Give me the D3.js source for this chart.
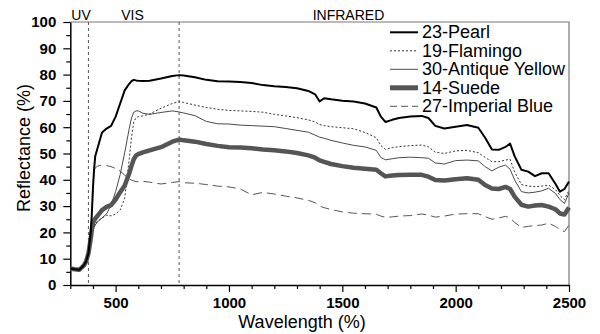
<!DOCTYPE html>
<html>
<head>
<meta charset="utf-8">
<script src="https://cdn.jsdelivr.net/npm/d3@7"></script>
<style>
  html, body { margin: 0; padding: 0; background: #fff; }
  svg { display: block; font-family: "Liberation Sans", Arial, sans-serif; }
</style>
</head>
<body>
<svg id="chart" width="600" height="334"></svg>
<script>
// Spectral reflectance of five paint colours, 300–2500 nm
const wavelengths = [300, 320, 340, 360, 370, 380, 390, 395, 400, 405, 410, 420, 440, 460, 480, 500, 520, 540, 560, 570, 580, 590, 600, 620, 650, 700, 750, 780, 800, 850, 900, 950, 1000, 1050, 1100, 1150, 1200, 1250, 1300, 1350, 1380, 1400, 1420, 1450, 1500, 1550, 1600, 1650, 1670, 1690, 1720, 1750, 1800, 1850, 1880, 1910, 1950, 2000, 2050, 2100, 2130, 2160, 2190, 2220, 2240, 2260, 2290, 2320, 2350, 2380, 2410, 2440, 2460, 2480, 2500];

const pearl = [6.3, 6.0, 5.8, 7.5, 9, 12, 20, 27, 37, 44, 49, 52, 58, 59.5, 60.5, 64, 69, 74, 76.5, 77.5, 78, 77.8, 77.7, 77.6, 77.7, 78.5, 79.5, 79.8, 79.7, 79, 78, 77.5, 77.4, 77.2, 76.8, 76, 75.6, 75.3, 74.8, 73.8, 72.5, 69.8, 71, 70.6, 70.1, 69.8, 69, 67.5, 64, 62, 62.8, 63.5, 64.1, 64.3, 63.5, 60.5, 59.5, 60.2, 60.8, 59.8, 56, 51.5, 51.4, 52.5, 53.8, 49, 43.8, 43.1, 41.4, 42.5, 42.5, 38.5, 35.5, 36.5, 39.3];

const flamingo = [6.3, 6.0, 5.8, 7.5, 9, 12, 17, 19.5, 21, 22, 23, 24.2, 25.5, 26.5, 26.3, 27, 28.5, 33, 48, 56, 62, 63.6, 64, 64.3, 65, 67.2, 69, 69.7, 69.4, 68.4, 67.5, 66.8, 66.4, 66.2, 66, 65.7, 64.9, 64.3, 63.6, 62.8, 62, 61, 60.6, 60.2, 59.8, 59.4, 58, 56, 53, 51.6, 52.2, 52.6, 53, 53.2, 52.5, 50.5, 50, 51, 51.2, 50.3, 48.5, 46.9, 46.9, 47.5, 47.8, 43, 38.2, 37.6, 37.4, 37.6, 38, 36.3, 34, 32.5, 36];

const antiqueYellow = [6.3, 6.0, 5.8, 7.5, 9, 12, 17, 19.5, 21, 22, 22.8, 24, 25.5, 27, 30.4, 35.5, 42, 50.3, 59.5, 63.5, 65.7, 66.2, 66.2, 65.3, 64.9, 65.6, 66.2, 65.8, 65.4, 64.4, 62.2, 61.3, 61.2, 60.8, 60.6, 60.4, 60.2, 59.5, 58.8, 58.1, 57, 56.2, 55.8, 55, 54, 53.1, 52.5, 51.2, 48.5, 47.6, 48, 48.4, 48.6, 48.4, 48.2, 46.4, 46, 47.3, 47.5, 47.2, 45, 43.4, 44.8, 45.6, 44, 40, 35.5, 35, 35.3, 35.8, 36.8, 34.8, 32.5, 31, 35];

const suede = [6.3, 6.0, 5.8, 7.5, 9, 12, 17.5, 21, 23.5, 24.5, 25.2, 26.3, 28.5, 29.7, 30.4, 32.5, 35.3, 37.8, 42.5, 45.3, 47.8, 49.2, 49.8, 50.4, 51.2, 52.4, 54.5, 55.3, 55, 54.5, 53.6, 52.9, 52.4, 52.3, 52, 51.5, 51.2, 50.8, 50.2, 49.3, 48.4, 47.4, 46.8, 46, 45.2, 44.6, 44.2, 43.8, 42.5, 41.3, 41.6, 41.8, 41.9, 41.9, 41.2, 39.9, 39.7, 40.2, 40.6, 40, 38, 36.7, 36.5, 37.3, 36.5, 33.6, 30.5, 29.8, 30.2, 30.4, 29.8, 28.8, 27.2, 26.8, 29.5];

const imperialBlue = [6.3, 6.0, 5.8, 7.5, 9, 12, 20, 27, 37, 43.8, 44.5, 45.2, 45.6, 45.4, 45, 44.3, 43.3, 41.8, 40.3, 39.9, 39.6, 39.3, 39.3, 39.4, 39.1, 38.4, 39, 39.3, 38.9, 38.7, 38.2, 37.6, 37.3, 36.5, 34.3, 35.2, 34.6, 33.8, 33.1, 32.2, 31.3, 30, 29.4, 28.7, 27.8, 27.3, 27.1, 26.9, 26.2, 25.7, 25.9, 26.2, 26.4, 27, 26.6, 25.8, 26.2, 27, 27.1, 27.1, 26, 25, 25.5, 26.1, 25.5, 23.8, 21.9, 22.3, 22.6, 22.8, 23.5, 22.3, 21, 20.3, 22.8];

const seriesNames = ["23-Pearl", "19-Flamingo", "30-Antique Yellow", "14-Suede", "27-Imperial Blue"];
const seriesValues = [pearl, flamingo, antiqueYellow, suede, imperialBlue];

const xMajorTicks = [500, 1000, 1500, 2000, 2500];
const yMajorTicks = [0, 10, 20, 30, 40, 50, 60, 70, 80, 90, 100];
const regionBounds = [380, 780];
const regionLabels = [{ text: "UV", at: 300 }, { text: "VIS", at: 520 }, { text: "INFRARED", at: 1365 }];

// line styles per series
const styles = [
  { stroke: "#000", width: 2, dash: null },
  { stroke: "#333", width: 1, dash: "2,2" },
  { stroke: "#4a4a4a", width: 1, dash: null },
  { stroke: "#555", width: 4.5, dash: null },
  { stroke: "#555", width: 1, dash: "9,5" }
];

const svg = d3.select("#chart");
const plotLeft = 70.3, plotRight = 569, plotTop = 22, plotBottom = 285;

const x = d3.scaleLinear().domain([300, 2500]).range([plotLeft, plotRight]);
const y = d3.scaleLinear().domain([0, 100]).range([plotBottom, plotTop]);

// frame: top and right edges
svg.append("path")
  .attr("d", `M${plotLeft},${plotTop}H${plotRight}V${plotBottom}`)
  .attr("fill", "none").attr("stroke", "#777").attr("stroke-width", 1.2);

// region separators
svg.selectAll("line.region").data(regionBounds).join("line")
  .attr("class", "region")
  .attr("x1", d => x(d)).attr("x2", d => x(d))
  .attr("y1", plotTop).attr("y2", plotBottom)
  .attr("stroke", "#555").attr("stroke-width", 1).attr("stroke-dasharray", "3,3");

svg.selectAll("text.region").data(regionLabels).join("text")
  .attr("class", "region")
  .attr("x", d => x(d.at) + 1).attr("y", 19.5)
  .attr("font-size", 14).attr("fill", "#000")
  .text(d => d.text);

// minor ticks
const xMinor = d3.range(300, 2501, 100).filter(v => !xMajorTicks.includes(v));
const yMinor = d3.range(5, 100, 10);

svg.append("g").attr("transform", `translate(0,${plotBottom})`)
  .call(d3.axisBottom(x).tickValues(xMinor).tickSize(4).tickFormat(""))
  .call(g => g.select(".domain").remove());
svg.append("g").attr("transform", `translate(${plotLeft},0)`)
  .call(d3.axisLeft(y).tickValues(yMinor).tickSize(4).tickFormat(""))
  .call(g => g.select(".domain").remove());

// major axes
const xAxis = svg.append("g").attr("transform", `translate(0,${plotBottom})`)
  .call(d3.axisBottom(x).tickValues(xMajorTicks).tickFormat(d3.format("d"))
    .tickSize(7).tickPadding(5).tickSizeOuter(0));
const yAxis = svg.append("g").attr("transform", `translate(${plotLeft},0)`)
  .call(d3.axisLeft(y).tickValues(yMajorTicks).tickFormat(d3.format("d"))
    .tickSize(7).tickPadding(7).tickSizeOuter(0));

[xAxis, yAxis].forEach(g => {
  g.selectAll("text").attr("font-size", 15).attr("font-weight", "bold")
    .attr("font-family", "Liberation Sans, Arial, sans-serif").attr("fill", "#000");
  g.select(".domain").attr("stroke-width", 1.5);
});
svg.selectAll(".tick line").attr("stroke", "#000").attr("stroke-width", 1.2);

// axis titles
svg.append("text")
  .attr("x", 302).attr("y", 328)
  .attr("text-anchor", "middle").attr("font-size", 18)
  .text("Wavelength (%)");
svg.append("text")
  .attr("transform", "translate(30,148) rotate(-90)")
  .attr("text-anchor", "middle").attr("font-size", 18)
  .text("Reflectance (%)");

// spectra
const line = d3.line()
  .x((d, i) => x(wavelengths[i]))
  .y(d => y(d))
  .curve(d3.curveLinear);

const drawOrder = [4, 2, 1, 3, 0];
drawOrder.forEach(k => {
  svg.append("path")
    .datum(seriesValues[k])
    .attr("d", line)
    .attr("fill", "none")
    .attr("stroke", styles[k].stroke)
    .attr("stroke-width", styles[k].width)
    .attr("stroke-dasharray", styles[k].dash)
    .attr("stroke-linejoin", "round");
});

// legend
const legend = svg.append("g");
seriesNames.forEach((name, i) => {
  const base = 38.3 + i * 18.5;
  legend.append("line")
    .attr("x1", 390).attr("x2", 418)
    .attr("y1", base - 6).attr("y2", base - 6)
    .attr("stroke", styles[i].stroke)
    .attr("stroke-width", i === 3 ? 5 : styles[i].width)
    .attr("stroke-dasharray", i === 4 ? "7,4" : styles[i].dash);
  legend.append("text")
    .attr("x", 422).attr("y", base)
    .attr("font-size", 18)
    .text(name);
});
</script>
</body>
</html>
